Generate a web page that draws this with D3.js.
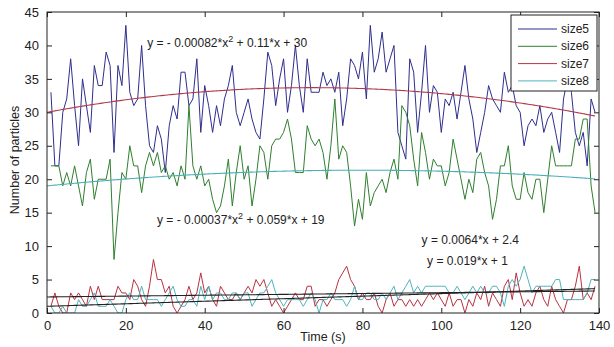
<!DOCTYPE html>
<html>
<head>
<meta charset="utf-8">
<script src="https://cdn.jsdelivr.net/npm/d3@7"></script>
<style>
  body { margin: 0; background: #fff; }
  svg text { font-family: "Liberation Sans", Arial, sans-serif; fill: #222; }
</style>
</head>
<body>
<div id="chart"></div>
<script>
// time in seconds, 1..139
const time = d3.range(1, 140);

const size5 = [33,22,22,30,32,38,31,25,35,31,27,37,34,34,39,37,24,37,34,43,
  33,31,32,40,31,25,24,28,26,21,28,31,29,36,36,31,32,38,27,34,
  31,27,31,28,32,34,37,30,28,30,32,29,27,26,32,39,37,31,35,38,
  30,34,40,34,30,38,33,33,33,36,34,35,33,36,28,32,38,37,35,39,
  32,43,36,38,42,36,38,40,27,25,23,38,36,27,33,40,30,34,33,27,
  32,31,33,29,33,37,32,29,24,27,30,34,32,31,30,36,33,34,31,30,
  25,28,29,28,31,27,29,30,27,24,32,35,33,27,25,27,22,32,30];

const size6 = [22,22,22,19,21,19,22,19,16,21,23,17,20,20,20,23,8,15,21,20,
  25,22,22,18,22,24,22,24,21,22,20,21,19,22,20,31,22,20,22,19,
  20,17,15,16,19,23,16,21,25,20,22,16,20,25,24,20,25,26,26,27,
  29,26,21,21,21,28,26,25,26,24,20,25,32,23,25,24,19,13,17,14,
  21,16,18,19,20,18,21,23,20,31,30,28,23,19,27,24,20,23,22,22,
  19,21,26,23,20,17,20,18,23,24,21,19,14,17,22,22,25,19,17,17,
  21,18,17,20,20,15,20,25,22,22,22,22,22,26,26,29,29,19,15];

const size7 = [1,3,1,0,0,3,2,3,2,1,4,2,4,2,2,2,2,4,3,3,
  2,5,4,2,1,4,8,5,5,3,4,1,0,1,2,4,2,3,6,3,
  4,2,1,4,3,2,2,3,2,3,4,3,5,4,5,3,1,2,1,0,
  1,2,3,2,2,4,4,1,2,2,1,2,3,5,6,7,5,4,2,3,
  2,2,3,1,0,2,3,1,2,2,1,2,1,2,1,2,3,2,3,2,
  1,3,1,2,2,0,2,1,3,2,4,1,3,2,1,4,5,2,6,3,
  1,2,1,3,4,2,1,4,2,1,0,2,2,4,7,2,3,2,4];

const size8 = [1,0,0,1,0,0,0,2,1,1,2,3,1,1,1,2,1,0,0,2,
  3,2,2,4,2,2,2,2,1,2,3,4,2,1,1,2,2,1,4,2,
  4,2,3,3,2,2,3,3,2,3,3,1,2,3,3,4,5,3,2,1,
  2,2,2,2,1,2,3,2,0,2,2,3,2,2,2,1,2,4,2,2,
  3,3,2,2,3,2,3,4,2,3,4,5,3,4,3,4,4,4,4,4,
  4,3,3,4,3,2,3,4,3,4,3,3,4,4,3,1,4,5,4,5,
  7,5,3,4,4,4,4,4,5,5,2,2,2,2,2,2,3,5,5];

const seriesNames = ["size5", "size6", "size7", "size8"];
const seriesColors = ["#2e2e8e", "#2f7f2f", "#b8323f", "#4fb3bd"];

// polynomial fits (coefficients from the chart labels, highest power first)
const fit5 = [-0.00082, 0.11, 30];
const fit6 = [-0.00037, 0.059, 19];
const fit7 = [0.0064, 2.4];
const fit8 = [0.019, 1];
const fitLabels = [
  { x: 25.4, y: 39.8, parts: ["y = - 0.00082*x", "2", " + 0.11*x + 30"] },
  { x: 27.9, y: 13.3, parts: ["y = - 0.00037*x", "2", " + 0.059*x + 19"] },
  { x: 95, y: 10.3, parts: ["y = 0.0064*x + 2.4"] },
  { x: 96.4, y: 7.25, parts: ["y = 0.019*x + 1"] }
];

const xTicks = d3.range(0, 141, 20);
const yTicks = d3.range(0, 46, 5);

const W = 614, H = 347;
const x = d3.scaleLinear().domain([0, 140]).range([47, 599]);
const y = d3.scaleLinear().domain([0, 45]).range([313, 12]);

const svg = d3.select("#chart").append("svg")
  .attr("width", W).attr("height", H);

const line = d3.line().x(d => x(d[0])).y(d => y(d[1]));
const polyval = (c, t) => c.reduce((acc, k) => acc * t + k, 0);
const fitPts = c => d3.range(0, 139.01, 0.5).map(t => [t, polyval(c, t)]);

svg.append("clipPath").attr("id", "plot")
  .append("rect").attr("x", 47).attr("y", 12).attr("width", 552).attr("height", 301);

const plot = svg.append("g").attr("clip-path", "url(#plot)");

const data = [size5, size6, size7, size8];
data.forEach((vals, i) => {
  plot.append("path")
    .attr("d", line(vals.map((v, j) => [time[j], v])))
    .attr("fill", "none")
    .attr("stroke", seriesColors[i])
    .attr("stroke-width", 1);
});

// fitted curves
[[fit5, "#b23a48"], [fit6, "#4aafb8"], [fit7, "#222"], [fit8, "#222"]].forEach(([c, col]) => {
  plot.append("path")
    .attr("d", line(fitPts(c)))
    .attr("fill", "none")
    .attr("stroke", col)
    .attr("stroke-width", 1.1);
});

// axes box
svg.append("rect")
  .attr("x", 47).attr("y", 12).attr("width", 552).attr("height", 301)
  .attr("fill", "none").attr("stroke", "#222").attr("stroke-width", 1);

const xAxis = svg.append("g").attr("transform", "translate(0,313)")
  .call(d3.axisBottom(x).tickValues(xTicks).tickSize(-5).tickPadding(8));
const xTop = svg.append("g").attr("transform", "translate(0,12)")
  .call(d3.axisTop(x).tickValues(xTicks).tickSize(-5).tickFormat(""));
const yAxis = svg.append("g").attr("transform", "translate(47,0)")
  .call(d3.axisLeft(y).tickValues(yTicks).tickSize(-5).tickPadding(8));
const yRight = svg.append("g").attr("transform", "translate(599,0)")
  .call(d3.axisRight(y).tickValues(yTicks).tickSize(-5).tickFormat(""));

[xAxis, xTop, yAxis, yRight].forEach(g => {
  g.select(".domain").remove();
  g.selectAll("line").attr("stroke", "#222");
  g.selectAll("text").attr("font-size", 13).attr("fill", "#333")
    .style("font-family", "'Liberation Sans', Arial, sans-serif");
});

// axis labels
svg.append("text").attr("x", x(70)).attr("y", 341)
  .attr("text-anchor", "middle").attr("font-size", 12.5).text("Time (s)");
svg.append("text")
  .attr("transform", "translate(19,160) rotate(-90)")
  .attr("text-anchor", "middle").attr("font-size", 12.5).text("Number of particles");

// fit equations
fitLabels.forEach(l => {
  const t = svg.append("text").attr("x", x(l.x)).attr("y", y(l.y)).attr("font-size", 12);
  l.parts.forEach((p, k) => {
    if (k === 1) t.append("tspan").attr("dy", -5).attr("font-size", 9).text(p);
    else if (k === 2) t.append("tspan").attr("dy", 5).text(p);
    else t.append("tspan").text(p);
  });
});

// legend
const lg = svg.append("g").attr("transform", "translate(511,15)");
lg.append("rect").attr("width", 86).attr("height", 76)
  .attr("fill", "#fff").attr("stroke", "#222");
seriesNames.forEach((n, i) => {
  const yy = 14 + i * 17.3;
  lg.append("line").attr("x1", 7).attr("x2", 46).attr("y1", yy).attr("y2", yy)
    .attr("stroke", seriesColors[i]).attr("stroke-width", 1);
  lg.append("text").attr("x", 50).attr("y", yy + 4).attr("font-size", 12).text(n);
});
</script>
</body>
</html>
